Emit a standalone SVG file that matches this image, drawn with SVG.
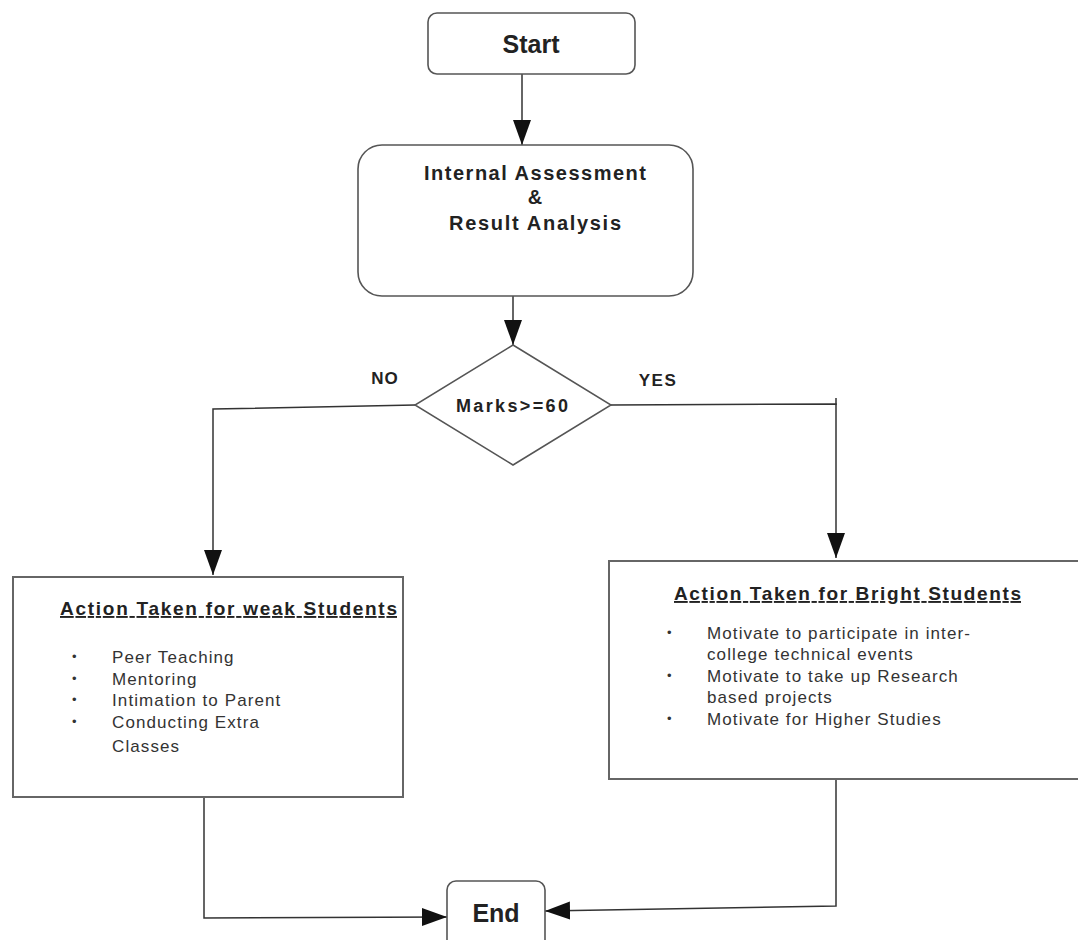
<svg xmlns="http://www.w3.org/2000/svg" width="1078" height="940" viewBox="0 0 1078 940">
<style>
.box{fill:#fff;stroke:#555;stroke-width:1.6}
.sq{fill:#fff;stroke:#666;stroke-width:2}
.ln{fill:none;stroke:#333;stroke-width:1.5}
.t{font-family:"Liberation Sans",Arial,sans-serif;fill:#222}
.b{font-weight:bold}
.big{font-size:25px}
.mid{font-size:20px}
.ttl{font-size:19px;font-weight:bold;text-decoration:underline}
.li{font-size:17px;fill:#333;letter-spacing:1.1px}
.dot{font-size:13px;fill:#333}
</style>
<defs>
<marker id="ah" markerUnits="userSpaceOnUse" markerWidth="26" markerHeight="20" refX="25" refY="9" orient="auto">
<path d="M0,0 L25,9 L0,18 z" fill="#111"/>
</marker>
</defs>
<rect width="1078" height="940" fill="#fff"/>
<g id="connectors">
<line class="ln" x1="522" y1="74" x2="522" y2="145" marker-end="url(#ah)"/>
<line class="ln" x1="513" y1="296" x2="513" y2="345" marker-end="url(#ah)"/>
<polyline class="ln" points="415,405 213,409 213,575" marker-end="url(#ah)"/>
<polyline class="ln" points="611,405 836,404 836,558" marker-end="url(#ah)"/>
<line class="ln" x1="836" y1="398" x2="836" y2="405"/>
<polyline class="ln" points="204,797 204,918 447,917" marker-end="url(#ah)"/>
<polyline class="ln" points="836,779 836,906 545,911" marker-end="url(#ah)"/>
</g>
<g id="start">
<rect class="box" x="428" y="13" width="207" height="61" rx="9"/>
<text class="t b big" x="531" y="53" text-anchor="middle">Start</text>
</g>
<g id="assessment">
<rect class="box" x="358" y="145" width="335" height="151" rx="24"/>
<text class="t b mid" x="535" y="180" text-anchor="middle" textLength="222">Internal  Assessment</text>
<text class="t b mid" x="535" y="204" text-anchor="middle">&amp;</text>
<text class="t b mid" x="535" y="230" text-anchor="middle" textLength="172">Result  Analysis</text>
</g>
<g id="decision">
<polygon points="513,345 611,405 513,465 415,405" fill="#fff" stroke="#555" stroke-width="1.5"/>
<text class="t b" font-size="18" x="512" y="412" text-anchor="middle" textLength="112">Marks&gt;=60</text>
<text class="t b" font-size="17" x="385" y="384" text-anchor="middle" letter-spacing="1">NO</text>
<text class="t b" font-size="17" x="658" y="386" text-anchor="middle" letter-spacing="1.5">YES</text>
</g>
<g id="weak">
<rect class="sq" x="13" y="577" width="390" height="220"/>
<text class="t ttl" x="60" y="615" textLength="337">Action Taken for weak Students</text>
<g class="t dot">
<text x="72" y="661">•</text><text x="72" y="683">•</text><text x="72" y="704">•</text><text x="72" y="726">•</text>
</g>
<g class="t li">
<text x="112" y="663">Peer Teaching</text>
<text x="112" y="685">Mentoring</text>
<text x="112" y="706">Intimation to Parent</text>
<text x="112" y="728">Conducting Extra</text>
<text x="112" y="752">Classes</text>
</g>
</g>
<g id="bright">
<rect class="sq" x="609" y="561" width="475" height="218"/>
<text class="t ttl" x="674" y="600" textLength="347">Action Taken for Bright Students</text>
<g class="t dot">
<text x="667" y="637">•</text><text x="667" y="680">•</text><text x="667" y="723">•</text>
</g>
<g class="t li">
<text x="707" y="639">Motivate to participate in inter-</text>
<text x="707" y="660">college technical events</text>
<text x="707" y="682">Motivate to take up Research</text>
<text x="707" y="703">based projects</text>
<text x="707" y="725">Motivate for Higher Studies</text>
</g>
</g>
<g id="end">
<rect class="box" x="447" y="881" width="98" height="70" rx="9"/>
<text class="t b big" x="496" y="922" text-anchor="middle">End</text>
</g>
</svg>
